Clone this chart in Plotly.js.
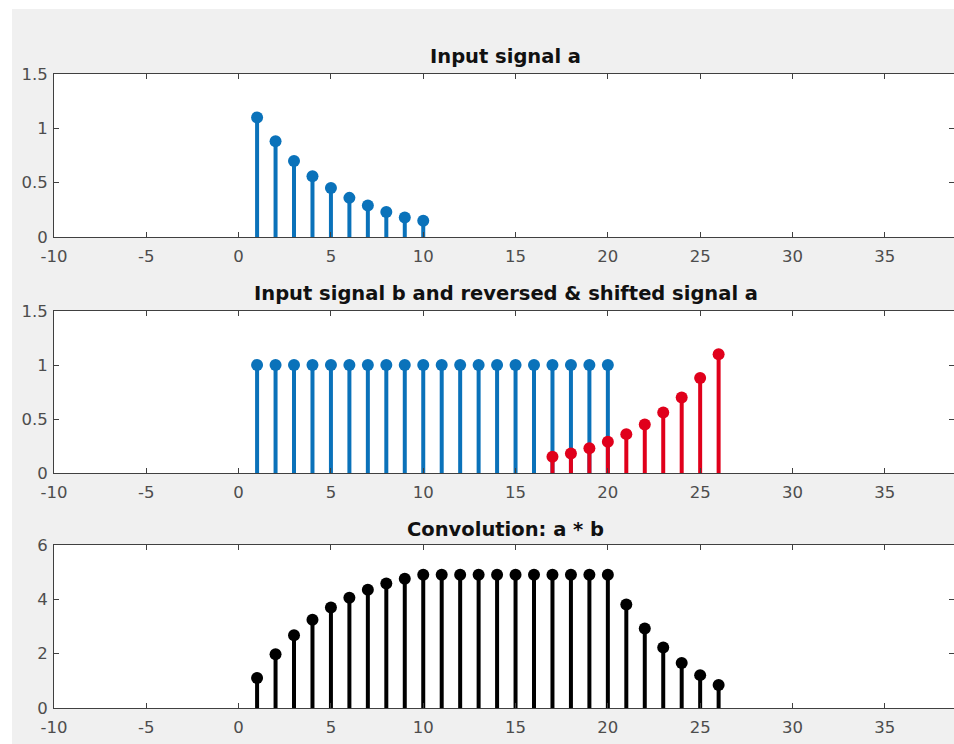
<!DOCTYPE html>
<html><head><meta charset="utf-8">
<script src="https://cdn.plot.ly/plotly-3.0.1.min.js"></script>
<style>html,body{margin:0;padding:0;background:#fff;overflow:hidden}
#chart{position:absolute;left:12px;top:9px;width:942px;height:735px}</style>
</head><body><div id="chart"></div>
<script>
const nA = [1,2,3,4,5,6,7,8,9,10];
const signalA = [1.10,0.88,0.70,0.56,0.45,0.36,0.29,0.23,0.18,0.15];
const nB = [1,2,3,4,5,6,7,8,9,10,11,12,13,14,15,16,17,18,19,20];
const signalB = [1,1,1,1,1,1,1,1,1,1,1,1,1,1,1,1,1,1,1,1];
const nShifted = [17,18,19,20,21,22,23,24,25,26];
const shiftedA = [0.15,0.18,0.23,0.29,0.36,0.45,0.56,0.70,0.88,1.10];
const nConv = [1,2,3,4,5,6,7,8,9,10,11,12,13,14,15,16,17,18,19,20,21,22,23,24,25,26];
const convAB = [1.10,1.98,2.68,3.25,3.70,4.06,4.35,4.58,4.76,4.91,4.91,4.91,4.91,4.91,4.91,4.91,4.91,4.91,4.91,4.91,3.81,2.93,2.23,1.66,1.21,0.85];
const titles = ["Input signal a", "Input signal b and reversed & shifted signal a", "Convolution: a * b"];
const xTicks = [-10,-5,0,5,10,15,20,25,30,35];
const yTicksSignal = [0,0.5,1,1.5];
const yTicksConv = [0,2,4,6];

const BLUE = '#0a72ba', RED = '#e0001b', BLACK = '#000000';

function stemTraces(xs, ys, color, xa, ya) {
  const lx = [], ly = [];
  xs.forEach((x, i) => { lx.push(x, x, null); ly.push(0, ys[i], null); });
  return [
    {type:'scatter', mode:'lines', x:lx, y:ly, xaxis:xa, yaxis:ya,
     line:{color:color, width:4}, hoverinfo:'skip', showlegend:false},
    {type:'scatter', mode:'markers', x:xs, y:ys, xaxis:xa, yaxis:ya,
     marker:{color:color, size:12}, showlegend:false, cliponaxis:false}
  ];
}

const data = [].concat(
  stemTraces(nA, signalA, BLUE, 'x', 'y'),
  stemTraces(nB, signalB, BLUE, 'x2', 'y2'),
  stemTraces(nShifted, shiftedA, RED, 'x2', 'y2'),
  stemTraces(nConv, convAB, BLACK, 'x3', 'y3')
);

const tickFont = {family:'DejaVu Sans', size:16.5, color:'#4d4d4d'};
function xAxis(anchor) {
  return {anchor:anchor, domain:[0.0446, 1], range:[-10, 38.75],
    tickvals:xTicks, ticktext:xTicks.map(String), ticks:'inside', ticklen:5,
    tickcolor:'#404040', showline:true, linecolor:'#404040', linewidth:1,
    mirror:'ticks', showgrid:false, zeroline:false, tickfont:tickFont,
    ticklabelstandoff:4, fixedrange:true};
}
function yAxis(anchor, dom, range, ticks) {
  return {anchor:anchor, domain:dom, range:range,
    tickvals:ticks, ticktext:ticks.map(String), ticks:'inside', ticklen:5,
    tickcolor:'#404040', showline:true, linecolor:'#404040', linewidth:1,
    mirror:'ticks', showgrid:false, zeroline:false, tickfont:tickFont,
    ticklabelstandoff:2, fixedrange:true};
}

const titleY = [0.9347, 0.6136, 0.2925];
const layout = {
  width:942, height:735,
  margin:{l:0, r:0, t:0, b:0, pad:0},
  paper_bgcolor:'#f0f0f0', plot_bgcolor:'#ffffff',
  showlegend:false,
  xaxis: xAxis('y'),
  yaxis: yAxis('x', [0.6898, 0.9116], [0, 1.5], yTicksSignal),
  xaxis2: xAxis('y2'),
  yaxis2: yAxis('x2', [0.3687, 0.5891], [0, 1.5], yTicksSignal),
  xaxis3: xAxis('y3'),
  yaxis3: yAxis('x3', [0.049, 0.2707], [0, 6], yTicksConv),
  annotations: titles.map((t, i) => ({
    text:'<b>' + t + '</b>', xref:'paper', yref:'paper', x:0.5244, y:titleY[i],
    xanchor:'center', yanchor:'middle', showarrow:false,
    font:{family:'DejaVu Sans', size:19.5, color:'#111111'}
  }))
};

Plotly.newPlot('chart', data, layout, {displayModeBar:false, staticPlot:true});
</script></body></html>
